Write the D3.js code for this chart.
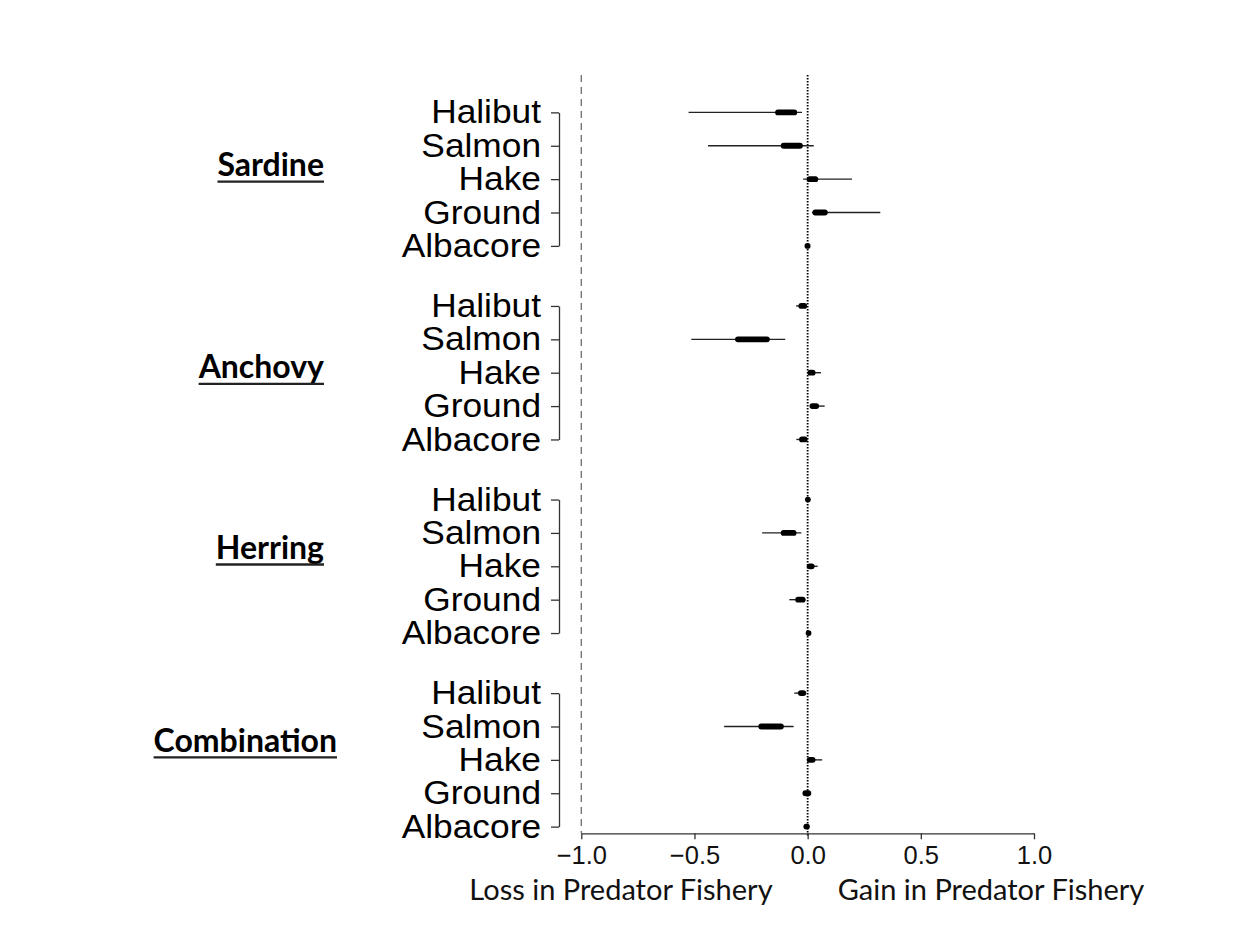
<!DOCTYPE html>
<html>
<head>
<meta charset="utf-8">
<script src="https://cdn.jsdelivr.net/npm/d3@7"></script>
<style>
  body { margin: 0; background: #fff; }
  svg { display: block; }
</style>
</head>
<body>
<svg id="chart" width="1250" height="941"></svg>
<script>
// Forage fishery scenarios and the predator fisheries they affect
const groups = ["Sardine", "Anchovy", "Herring", "Combination"];
const predators = ["Halibut", "Salmon", "Hake", "Ground", "Albacore"];

// Outer (thin) and inner (thick) intervals, one [low, high] per predator
const sardineOuter = [[-0.526, -0.025], [-0.44, 0.027], [-0.02, 0.196], [0.019, 0.321], [-0.005, 0.005]];
const sardineInner = [[-0.131, -0.059], [-0.106, -0.034], [0.009, 0.034], [0.034, 0.076], [-0.001, 0.0]];
const anchovyOuter = [[-0.051, -0.01], [-0.514, -0.099], [0.0, 0.059], [0.01, 0.075], [-0.05, -0.005]];
const anchovyInner = [[-0.028, -0.015], [-0.308, -0.18], [0.012, 0.022], [0.021, 0.038], [-0.025, -0.013]];
const herringOuter = [[0.0, 0.003], [-0.201, -0.028], [0.0, 0.044], [-0.081, -0.01], [0.002, 0.006]];
const herringInner = [[0.001, 0.001], [-0.106, -0.062], [0.009, 0.018], [-0.042, -0.022], [0.004, 0.004]];
const comboOuter = [[-0.059, -0.01], [-0.369, -0.062], [0.0, 0.064], [-0.015, 0.008], [-0.01, 0.0]];
const comboInner = [[-0.03, -0.019], [-0.205, -0.118], [0.009, 0.022], [-0.01, 0.003], [-0.006, -0.003]];

const xTicks = [-1, -0.5, 0, 0.5, 1];
const xTickLabels = ["\u22121.0", "\u22120.5", "0.0", "0.5", "1.0"];
const sideLabels = ["Loss in Predator Fishery", "Gain in Predator Fishery"];

const outerByGroup = [sardineOuter, anchovyOuter, herringOuter, comboOuter];
const innerByGroup = [sardineInner, anchovyInner, herringInner, comboInner];

// Row position: five rows per group, with a gap between groups
const groupStep = 5.8;
const rowPos = (g, i) => g * groupStep + i;

const rows = [];
groups.forEach((g, gi) => {
  predators.forEach((p, pi) => {
    rows.push({
      group: g, predator: p, pos: rowPos(gi, pi),
      outer: outerByGroup[gi][pi], inner: innerByGroup[gi][pi]
    });
  });
});

const svg = d3.select("#chart");

const x = d3.scaleLinear().domain([-1, 1]).range([581.3, 1034]);
const y = d3.scaleLinear().domain([-1.12, 21.6]).range([75, 833.3]);
const axisY = y(21.6);
const topY = y(-1.12);

// Reference lines at -1 (dashed) and 0 (dotted)
svg.append("line")
  .attr("x1", x(-1)).attr("x2", x(-1))
  .attr("y1", topY).attr("y2", axisY)
  .attr("stroke", "#777").attr("stroke-width", 1.4)
  .attr("stroke-dasharray", "7,5");

svg.append("line")
  .attr("x1", x(0)).attr("x2", x(0))
  .attr("y1", topY).attr("y2", axisY + 3)
  .attr("stroke", "#000").attr("stroke-width", 1.8)
  .attr("stroke-dasharray", "1.6,1.4");

// Bottom axis
const xAxis = d3.axisBottom(x)
  .tickValues(xTicks)
  .tickFormat((d, i) => xTickLabels[i])
  .tickSize(6)
  .tickSizeOuter(0)
  .tickPadding(7);

const gx = svg.append("g")
  .attr("transform", `translate(0,${axisY})`)
  .call(xAxis);
gx.select(".domain").attr("stroke", "#333").attr("stroke-width", 1.3);
gx.selectAll(".tick line").attr("stroke", "#333").attr("stroke-width", 1.3);
gx.selectAll(".tick text")
  .attr("fill", "#111")
  .style("font-family", "'Liberation Sans', Arial, sans-serif")
  .style("font-size", "25.5px");

// One bracketed left axis per group
const labelStretch = 1.07;
groups.forEach((g, gi) => {
  const ys = d3.scalePoint()
    .domain(predators)
    .range([y(rowPos(gi, 0)), y(rowPos(gi, predators.length - 1))]);
  const gy = svg.append("g")
    .attr("transform", "translate(559,0)")
    .call(d3.axisLeft(ys).tickSize(8).tickSizeOuter(0).tickPadding(10));
  gy.select(".domain").attr("stroke", "#333").attr("stroke-width", 1.3);
  gy.selectAll(".tick line").attr("stroke", "#333").attr("stroke-width", 1.3);
  gy.selectAll(".tick text")
    .attr("fill", "#000")
    .attr("x", -18 / labelStretch)
    .attr("transform", `scale(${labelStretch},1)`)
    .style("font-family", "'Liberation Sans', Arial, sans-serif")
    .style("font-size", "33px");
});

// Interval marks
const marks = svg.append("g");
marks.selectAll("line.outer")
  .data(rows)
  .join("line")
  .attr("class", "outer")
  .attr("x1", d => x(d.outer[0])).attr("x2", d => x(d.outer[1]))
  .attr("y1", d => y(d.pos)).attr("y2", d => y(d.pos))
  .attr("stroke", "#222").attr("stroke-width", 1.4);

marks.selectAll("line.inner")
  .data(rows)
  .join("line")
  .attr("class", "inner")
  .attr("x1", d => x(d.inner[0])).attr("x2", d => x(d.inner[1]))
  .attr("y1", d => y(d.pos)).attr("y2", d => y(d.pos))
  .attr("stroke", "#000").attr("stroke-width", 5.8)
  .attr("stroke-linecap", "round");

// Group titles, bold and underlined, to the left of the predator names
const titleRight = [324, 324, 324, 337];
const titleRow = [1.91, 2.17, 1.78, 1.76];
groups.forEach((g, gi) => {
  const t = svg.append("text")
    .attr("x", titleRight[gi])
    .attr("y", y(rowPos(gi, titleRow[gi])))
    .attr("text-anchor", "end")
    .attr("fill", "#000")
    .style("font-family", "Lato, 'Open Sans', sans-serif")
    .style("font-weight", "700")
    .style("font-size", "32px")
    .text(g);
  const w = t.node().getComputedTextLength();
  svg.append("line")
    .attr("x1", titleRight[gi] - w).attr("x2", titleRight[gi])
    .attr("y1", y(rowPos(gi, titleRow[gi])) + 5.5)
    .attr("y2", y(rowPos(gi, titleRow[gi])) + 5.5)
    .attr("stroke", "#222").attr("stroke-width", 2.4);
});

// Direction captions under the axis
svg.selectAll("text.side")
  .data(sideLabels)
  .join("text")
  .attr("class", "side")
  .attr("x", (d, i) => i === 0 ? 621 : 991)
  .attr("y", 900)
  .attr("text-anchor", "middle")
  .attr("fill", "#111")
  .style("font-family", "Lato, 'Open Sans', sans-serif")
  .style("font-size", "29px")
  .text(d => d);
</script>
</body>
</html>
